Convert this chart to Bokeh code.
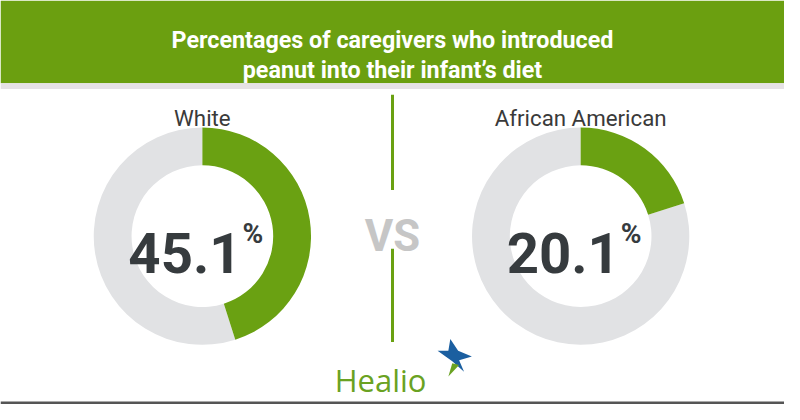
import math
from bokeh.plotting import figure
from bokeh.models import Range1d
from bokeh.core.properties import value
from bokeh.embed import file_html
from bokeh.resources import INLINE

# ---- data ----
title_lines = ["Percentages of caregivers who introduced", "peanut into their infant\u2019s diet"]
groups = ["White", "African American"]
pcts = [45.1, 20.1]
pct_labels = ["45.1", "20.1"]
vs_label = "VS"
brand = "Healio"

# ---- layout: reference canvas 800x420 mapped onto a 784x404 figure ----
W, H = 784, 404
FS = 0.97  # font / radius scale
GREEN = "#6aa112"
RING_GRAY = "#e1e2e4"
DARK = "#363b3e"
cxs = [206, 592]
cy = 245
r_out, r_in = 112 * FS, 73 * FS

def Y(py):
    return -py

def px(n):
    return value(f"{n * FS:.1f}px")

p = figure(width=W, height=H, output_backend="svg", toolbar_location=None,
           x_range=Range1d(0, 800), y_range=Range1d(Y(420), Y(0)),
           min_border=0, outline_line_color=None, background_fill_color="white",
           border_fill_color="white")
p.axis.visible = False
p.grid.visible = False

# header band
p.quad(left=[0], right=[800], top=[Y(0)], bottom=[Y(86)], fill_color="#6b9f10", line_color=None)
p.quad(left=[0], right=[800], top=[Y(86)], bottom=[Y(92)], fill_color="#e6e2e5", line_color=None)
p.text(x=[400, 400], y=[Y(41), Y(72)], text=title_lines,
       text_font=value("Roboto"), text_font_style="bold",
       text_font_size=px(24), text_color="white", text_align="center",
       text_baseline="alphabetic")

# donuts
for cx, pct, lab, g in zip(cxs, pcts, pct_labels, groups):
    frac = pct / 100.0
    start = math.pi / 2
    end = start - frac * 2 * math.pi
    p.annular_wedge(x=[cx], y=[Y(cy)], inner_radius=r_in, outer_radius=r_out,
                    inner_radius_units="screen", outer_radius_units="screen",
                    start_angle=[end], end_angle=[start - 2 * math.pi], direction="clock",
                    fill_color=RING_GRAY, line_color=None)
    p.annular_wedge(x=[cx], y=[Y(cy)], inner_radius=r_in, outer_radius=r_out,
                    inner_radius_units="screen", outer_radius_units="screen",
                    start_angle=[start], end_angle=[end], direction="clock",
                    fill_color=GREEN, line_color=None)
    p.text(x=[cx + 40], y=[Y(263)], text=[lab], text_font=value("Roboto"),
           text_font_style="bold", text_font_size=px(58), text_color=DARK,
           text_align="right", text_baseline="alphabetic")
    p.text(x=[cx + 41], y=[Y(242)], text=["%"], text_font=value("Roboto"),
           text_font_style="bold", text_font_size=px(29), text_color=DARK,
           text_align="left", text_baseline="alphabetic")
    p.text(x=[cx], y=[Y(122)], text=[g], text_font=value("Roboto"),
           text_font_size=px(23), text_color="#3a3a3a",
           text_align="center", text_baseline="alphabetic")

# divider and VS
p.segment(x0=[400, 400], y0=[Y(98), Y(258)], x1=[400, 400], y1=[Y(197), Y(355)],
          line_color=GREEN, line_width=3)
p.text(x=[400], y=[Y(245)], text=[vs_label], text_font=value("Roboto"),
       text_font_style="bold", text_font_size=px(45), text_color="#c6c6c6",
       text_align="center", text_baseline="alphabetic")

# brand
p.text(x=[341], y=[Y(395)], text=[brand], text_font=value("Open Sans"),
       text_font_size=px(32), text_color="#6aa222",
       text_align="left", text_baseline="alphabetic")
p.patch(x=[459, 467, 481, 468, 473, 461, 446, 457],
        y=[Y(352), Y(364), Y(370), Y(374), Y(386), Y(375), Y(364), Y(364)],
        fill_color="#1b5fa0", line_color=None)
p.patch(x=[461, 468, 457], y=[Y(377), Y(379), Y(391)], fill_color="#6aa222", line_color=None)

# bottom rule
p.quad(left=[0], right=[800], top=[Y(417)], bottom=[Y(420)], fill_color="#555555", line_color=None)

open("out.html", "w").write(file_html(p, INLINE))
